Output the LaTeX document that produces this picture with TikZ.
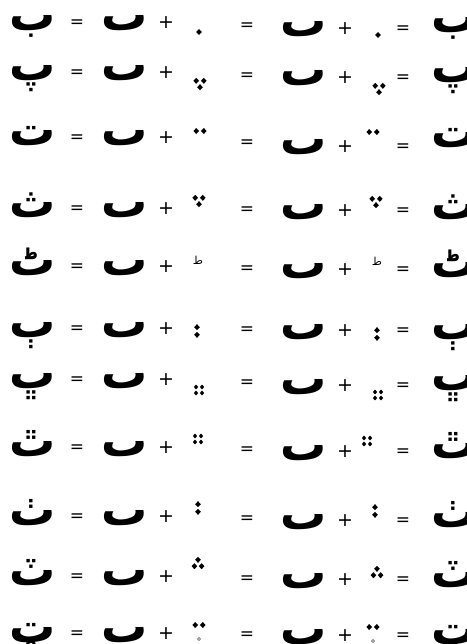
\documentclass[tikz,border=0pt]{standalone}
\usepackage{fontspec}
\usetikzlibrary{shapes.geometric}
\TeXXeTstate=1
\newfontfamily\arabicfont[Script=Arabic]{DejaVu Sans}
\newfontfamily\arabicbold[Script=Arabic]{DejaVu Sans Bold}
\newfontfamily\symfont{DejaVu Sans}
\begin{document}
\begin{tikzpicture}[x=1pt,y=-1pt,
  letter/.style={inner sep=0pt,anchor=base,font=\arabicbold\fontsize{46}{46}\selectfont},
  eqsign/.style={inner sep=0pt,anchor=base,font=\symfont\fontsize{17}{17}\selectfont},
  plussign/.style={inner sep=0pt,anchor=base,font=\symfont\fontsize{19}{19}\selectfont},
  tahmark/.style={inner sep=0pt,font=\arabicfont\fontsize{11}{11}\selectfont},
  dotm/.style={diamond,fill=black,draw=none,inner sep=0pt,minimum width=5.8pt,minimum height=6.2pt},
  smalldot/.style={dotm,minimum width=4.6pt,minimum height=4.8pt},
  ringm/.style={circle,draw=black!70,line width=0.5pt,inner sep=0pt,minimum size=3pt},
  onedot/.pic={\node[dotm] (-a) at (0,0) {};},
  tridown/.pic={\node[dotm] (-a) at (-3.8,-3.2) {};\node[dotm] (-b) at (3.8,-3.2) {};\node[dotm] (-c) at (0,3.2) {};},
  triup/.pic={\node[dotm] (-a) at (0,-3.2) {};\node[dotm] (-b) at (-3.6,3.2) {};\node[dotm] (-c) at (3.6,3.2) {};},
  hpair/.pic={\node[dotm] (-a) at (-3.8,0) {};\node[dotm] (-b) at (3.8,0) {};},
  vpair/.pic={\node[dotm] (-a) at (0,-3.8) {};\node[dotm] (-b) at (0,3.8) {};},
  four/.pic={\node[smalldot] (-a) at (-3,-3) {};\node[smalldot] (-b) at (3,-3) {};
             \node[smalldot] (-c) at (-3,3) {};\node[smalldot] (-d) at (3,3) {};},
  pairring/.pic={\node[dotm] (-a) at (-3.8,0) {};\node[dotm] (-b) at (3.8,0) {};\node[ringm] (-r) at (0,14) {};}]
\fill[white] (0,0) rectangle (466,644);
\useasboundingbox (0,0) rectangle (466,644);
% rows: index / y of first group / y of second group / letter
\foreach \i/\ya/\yb/\L in {1/22/28/ب,2/72/77/پ,3/137/146/ت,4/208/210/ث,5/266/269/ٹ,6/328/330/ٻ,7/379/385/ڀ,8/447/451/ٿ,9/516/520/ٺ,10/576/579/ٽ,11/633/635/ټ}{
  \pgfmathsetmacro\ym{(\ya+\yb)/2}
  \node[letter] (L\i) at (33,\ya+9) {\beginR \L\endR};
  \node[eqsign] (eqa\i) at (77,\ya+5.8) {=};
  \node[letter] (ba\i) at (125,\ya+9) {\beginR ٮ\endR};
  \node[plussign] (pla\i) at (166,\ya+6.5) {+};
  \node[eqsign] (eqb\i) at (247,\ym+5.8) {=};
  \node[letter] (bb\i) at (304,\yb+9) {\beginR ٮ\endR};
  \node[plussign] (plb\i) at (345,\yb+6.5) {+};
  \node[eqsign] (eqc\i) at (403,\yb+5.8) {=};
  \node[letter] (R\i) at (455,\ya+11) {\beginR \L\endR};
}
% detached marks
\pic (m1a) at (199,32) {onedot};   \pic (m1b) at (378,35) {onedot};
\pic (m2a) at (200,84) {tridown};  \pic (m2b) at (379,89) {tridown};
\pic (m3a) at (200,131) {hpair};   \pic (m3b) at (373,132) {hpair};
\pic (m4a) at (199,201) {tridown}; \pic (m4b) at (376,202) {tridown};
\node[tahmark] (m5a) at (198,260) {\beginR ط\endR};
\node[tahmark] (m5b) at (377,261) {\beginR ط\endR};
\pic (m6a) at (197,331) {vpair};   \pic (m6b) at (377,334) {vpair};
\pic (m7a) at (199,390) {four};    \pic (m7b) at (378,395) {four};
\pic (m8a) at (198,439) {four};    \pic (m8b) at (367,441) {four};
\pic (m9a) at (198,508) {vpair};   \pic (m9b) at (375,511) {vpair};
\pic (m10a) at (198,563) {triup};  \pic (m10b) at (377,572) {triup};
\pic (m11a) at (199,625) {pairring}; \pic (m11b) at (373,627) {pairring};
\end{tikzpicture}
\end{document}
